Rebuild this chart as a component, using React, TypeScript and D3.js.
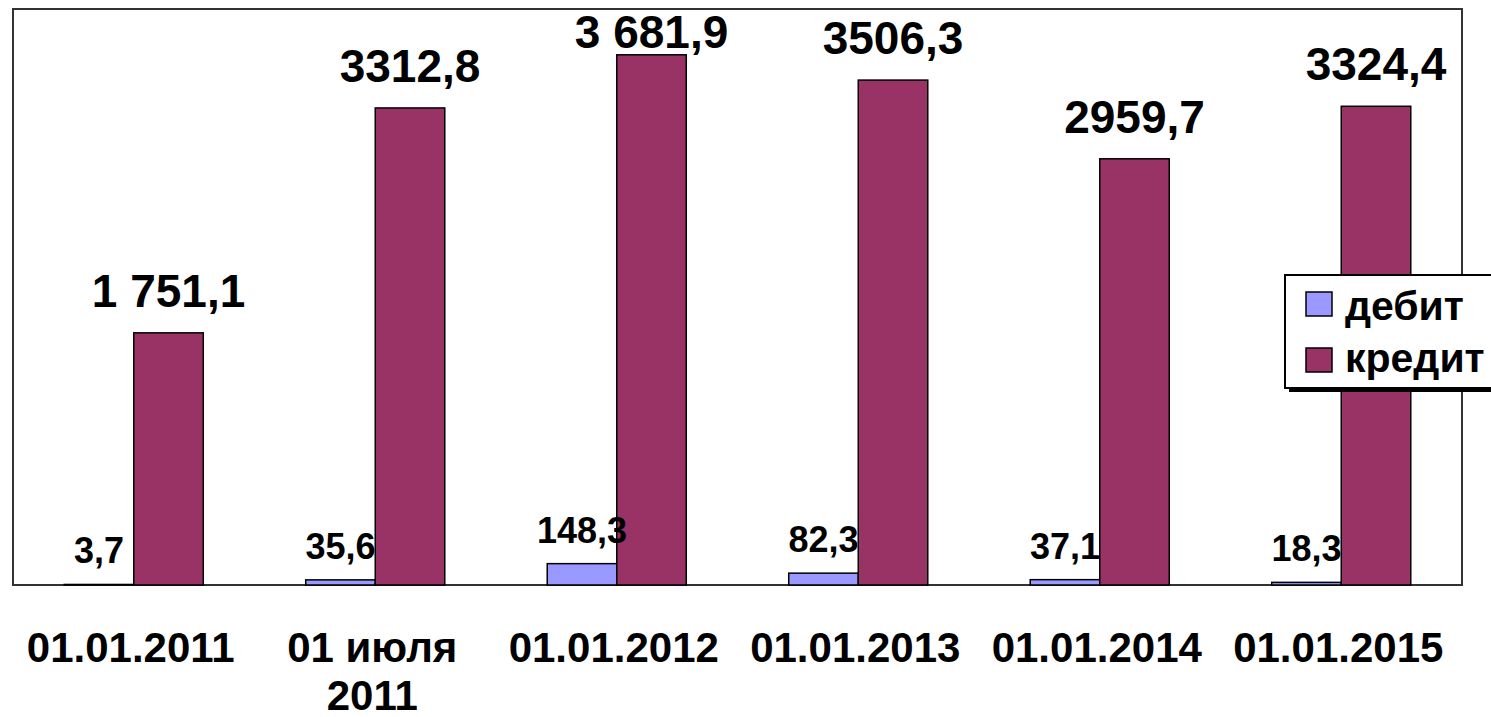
import React from "react";
import * as d3 from "d3";

const categories = ["01.01.2011", "01 июля\n2011", "01.01.2012", "01.01.2013", "01.01.2014", "01.01.2015"];
const debitValues = [3.7, 35.6, 148.3, 82.3, 37.1, 18.3];
const creditValues = [1751.1, 3312.8, 3681.9, 3506.3, 2959.7, 3324.4];
const debitLabels = ["3,7", "35,6", "148,3", "82,3", "37,1", "18,3"];
const creditLabels = ["1 751,1", "3312,8", "3 681,9", "3506,3", "2959,7", "3324,4"];
const seriesNames = ["дебит", "кредит"];
const seriesColors = ["#9999FF", "#993366"];

const W = 1491;
const H = 717;
const plot = { left: 13, right: 1462, top: 9, bottom: 585 };
const FONT = "'Liberation Sans', Arial, sans-serif";

export default function App() {
  const x = d3.scaleBand<string>().domain(categories).range([plot.left, plot.right]).padding(0);
  const inner = d3
    .scaleBand<string>()
    .domain(["debit", "credit"])
    .range([0, x.bandwidth()])
    .paddingInner(0)
    .paddingOuter(0.737);
  const y = d3.scaleLinear().domain([0, 4000]).range([plot.bottom, plot.top]);
  const bw = inner.bandwidth();

  return (
    <svg
      width={W}
      height={H}
      style={{ position: "absolute", left: 0, top: 0, background: "#fff" }}
      fontFamily={FONT}
    >
      <rect x={0} y={0} width={W} height={H} fill="#fff" />
      <rect
        x={plot.left}
        y={plot.top}
        width={plot.right - plot.left}
        height={plot.bottom - plot.top}
        fill="#fff"
        stroke="#333"
        strokeWidth={2}
      />
      {categories.map((c, i) => {
        const x0 = x(c)!;
        const dx = x0 + inner("debit")!;
        const cx = x0 + inner("credit")!;
        const dTop = y(debitValues[i]);
        const cTop = y(creditValues[i]);
        return (
          <g key={c}>
            <rect
              x={dx}
              y={dTop}
              width={bw}
              height={plot.bottom - dTop}
              fill={seriesColors[0]}
              stroke="#000"
              strokeWidth={1.5}
            />
            <rect
              x={cx}
              y={cTop}
              width={bw}
              height={plot.bottom - cTop}
              fill={seriesColors[1]}
              stroke="#000"
              strokeWidth={1.5}
            />
          </g>
        );
      })}
      {categories.map((c, i) => {
        const x0 = x(c)!;
        const dx = x0 + inner("debit")! + bw / 2;
        const cx = x0 + inner("credit")! + bw / 2;
        const dTop = y(debitValues[i]);
        const cTop = y(creditValues[i]);
        return (
          <g key={"l" + c} fontWeight="bold" fill="#000">
            <text x={dx} y={dTop - 21} fontSize={36} textAnchor="middle">
              {debitLabels[i]}
            </text>
            <text x={cx} y={Math.max(48, cTop - 26)} fontSize={46} textAnchor="middle">
              {creditLabels[i]}
            </text>
          </g>
        );
      })}
      {categories.map((c) => {
        const lines = c.split("\n");
        const cx = x(c)! + x.bandwidth() / 2 - 3;
        return (
          <text key={"x" + c} x={cx} y={662} fontSize={42} fontWeight="bold" textAnchor="middle" fill="#000">
            {lines.map((ln, j) => (
              <tspan key={j} x={cx} dy={j === 0 ? 0 : 48}>
                {ln}
              </tspan>
            ))}
          </text>
        );
      })}
      <g>
        <rect x={1289} y={279} width={220} height={113} fill="#000" />
        <rect x={1285} y={275} width={220} height={113} fill="#fff" stroke="#000" strokeWidth={2} />
        {seriesNames.map((s, i) => (
          <g key={s}>
            <rect
              x={1306}
              y={292 + i * 56}
              width={26}
              height={24}
              fill={seriesColors[i]}
              stroke="#000"
              strokeWidth={1.5}
            />
            <text x={1345} y={320 + i * 52} fontSize={41} fontWeight="bold" fill="#000">
              {s}
            </text>
          </g>
        ))}
      </g>
    </svg>
  );
}
